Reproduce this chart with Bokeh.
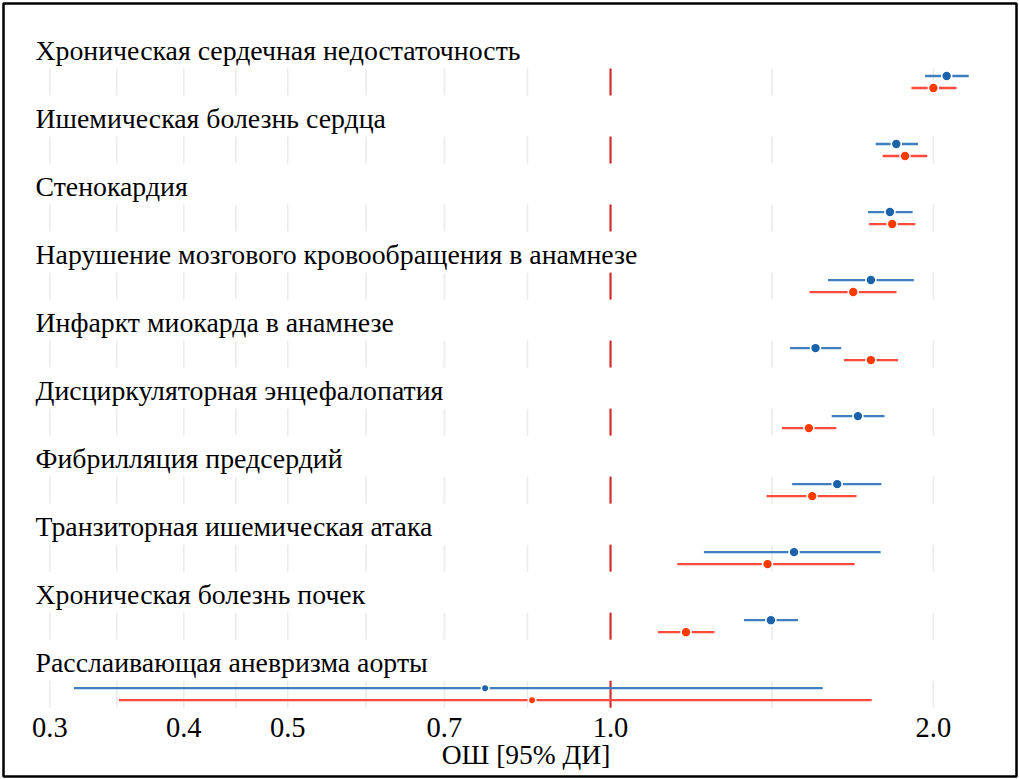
import math

from bokeh.core.properties import value
from bokeh.embed import file_html
from bokeh.models import ColumnDataSource, FixedTicker, Label, PrintfTickFormatter, Range1d
from bokeh.plotting import figure
from bokeh.resources import INLINE

# ---- data -------------------------------------------------------------
conditions = [
    "Хроническая сердечная недостаточность",
    "Ишемическая болезнь сердца",
    "Стенокардия",
    "Нарушение мозгового кровообращения в анамнезе",
    "Инфаркт миокарда в анамнезе",
    "Дисциркуляторная энцефалопатия",
    "Фибрилляция предсердий",
    "Транзиторная ишемическая атака",
    "Хроническая болезнь почек",
    "Расслаивающая аневризма аорты",
]

# first group (blue)
blue_or = [2.058, 1.847, 1.822, 1.749, 1.553, 1.701, 1.627, 1.483, 1.411, 0.764]
blue_lo = [1.965, 1.767, 1.738, 1.595, 1.470, 1.608, 1.477, 1.222, 1.332, 0.316]
blue_hi = [2.158, 1.935, 1.913, 1.918, 1.641, 1.801, 1.789, 1.786, 1.496, 1.577]

# second group (red)
red_or = [2.000, 1.882, 1.831, 1.684, 1.749, 1.531, 1.542, 1.401, 1.176, 0.845]
red_lo = [1.908, 1.794, 1.742, 1.533, 1.651, 1.445, 1.398, 1.154, 1.107, 0.348]
red_hi = [2.102, 1.974, 1.924, 1.848, 1.854, 1.624, 1.696, 1.689, 1.250, 1.752]

tick_values = [0.3, 0.4, 0.5, 0.7, 1.0, 2.0]
reference_or = 1.0

# ---- styling ----------------------------------------------------------
FONT = value("Liberation Serif")
BLUE_LINE, BLUE_DOT = "#3f7fbf", "#1a62aa"
RED_LINE, RED_DOT = "#ff4a3d", "#ff3a00"
REF_COLOR = "#d42f2f"
GRID_COLOR = "#ebebeb"

PANEL_HALF = 13.5 / 68     # half height of each row's panel, in row units
DODGE = 6.0 / 68           # vertical offset of the two groups
LABEL_RISE = 31.5 / 68     # row title baseline above panel centre

n = len(conditions)
rows = list(range(n))

p = figure(
    width=1019, height=779,
    x_axis_type="log",
    x_range=Range1d(0.2716, 2.391),
    y_range=Range1d(10.21, -1.154),
    y_axis_location=None,
    output_backend="svg", toolbar_location=None,
    min_border_left=3, min_border_right=3, min_border_top=3, min_border_bottom=3,
)
p.background_fill_color = "white"
p.border_fill_color = "white"
p.outline_line_color = "black"
p.outline_line_width = 2.5
p.xgrid.visible = False
p.ygrid.visible = False

# gridlines (major ticks plus geometric midpoints) drawn per row panel
grid_x = list(tick_values)
for a, b in zip(tick_values[:-1], tick_values[1:]):
    grid_x.append(math.sqrt(a * b))
gx, gy0, gy1 = [], [], []
for r in rows:
    for v in grid_x:
        gx.append(v)
        gy0.append(r - PANEL_HALF)
        gy1.append(r + PANEL_HALF)
p.segment(x0=gx, x1=gx, y0=gy0, y1=gy1, line_color=GRID_COLOR, line_width=1.6)

# reference line at OR = 1 in every panel
p.segment(x0=[reference_or] * n, x1=[reference_or] * n,
          y0=[r - PANEL_HALF for r in rows], y1=[r + PANEL_HALF for r in rows],
          line_color=REF_COLOR, line_width=2.2)

dot_size = [10] * (n - 1) + [7.5]

for ors, los, his, line_c, dot_c, shift in (
    (blue_or, blue_lo, blue_hi, BLUE_LINE, BLUE_DOT, -DODGE),
    (red_or, red_lo, red_hi, RED_LINE, RED_DOT, DODGE),
):
    src = ColumnDataSource(dict(
        y=[r + shift for r in rows], est=ors, lo=los, hi=his, size=dot_size,
    ))
    p.segment(x0="lo", x1="hi", y0="y", y1="y", source=src,
              line_color=line_c, line_width=2.3)
    p.scatter(x="est", y="y", size="size", source=src,
              fill_color=dot_c, line_color="white", line_width=1.6)

# row titles
p.text(x=[0.2716] * n, y=[r - LABEL_RISE for r in rows], text=conditions,
       x_offset=32, text_font=FONT, text_font_size="27.8px",
       text_align="left", text_baseline="alphabetic", text_color="black")

# x axis sits under the last panel
ax = p.xaxis[0]
ax.fixed_location = (n - 1) + PANEL_HALF
ax.ticker = FixedTicker(ticks=tick_values, minor_ticks=[])
ax.formatter = PrintfTickFormatter(format="%.1f")
ax.axis_line_color = None
ax.major_tick_line_color = None
ax.minor_tick_line_color = None
ax.major_tick_out = 0
ax.major_label_standoff = 10
ax.major_label_text_font = "Liberation Serif"
ax.major_label_text_font_size = "28.5px"
ax.major_label_text_color = "black"

p.add_layout(Label(x=522.5, y=22.5, x_units="screen", y_units="screen",
                   text="ОШ [95% ДИ]", text_font="Liberation Serif",
                   text_font_size="27.5px", text_align="center",
                   text_baseline="alphabetic", text_color="black"))

open("out.html", "w").write(file_html(p, INLINE))
